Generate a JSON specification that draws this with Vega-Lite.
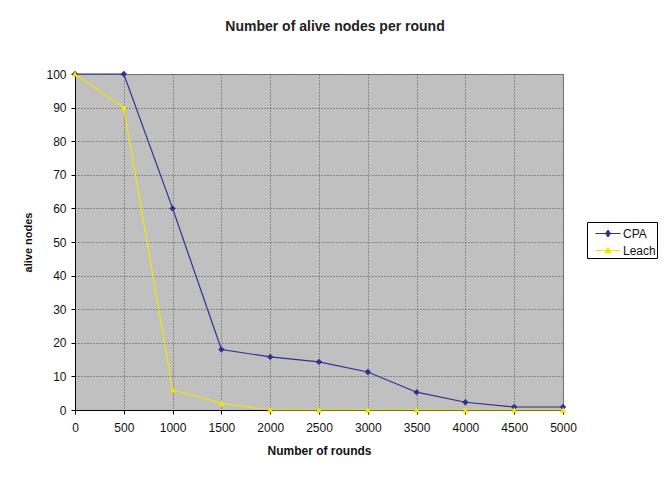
{
  "$schema": "https://vega.github.io/schema/vega-lite/v6.json",
  "width": 488,
  "height": 336,
  "autosize": {"type": "none"},
  "padding": {"left": 75, "top": 74, "right": 102, "bottom": 67},
  "background": "white",
  "title": {
    "text": "Number of alive nodes per round",
    "font": "Liberation Sans",
    "fontSize": 14,
    "fontWeight": "bold",
    "color": "#222222",
    "anchor": "middle",
    "dx": 16,
    "offset": 34
  },
  "data": {
    "values": [
      {"round": 0, "nodes": 100, "series": "CPA"},
      {"round": 500, "nodes": 100, "series": "CPA"},
      {"round": 1000, "nodes": 60, "series": "CPA"},
      {"round": 1500, "nodes": 18, "series": "CPA"},
      {"round": 2000, "nodes": 15.8, "series": "CPA"},
      {"round": 2500, "nodes": 14.3, "series": "CPA"},
      {"round": 3000, "nodes": 11.3, "series": "CPA"},
      {"round": 3500, "nodes": 5.3, "series": "CPA"},
      {"round": 4000, "nodes": 2.3, "series": "CPA"},
      {"round": 4500, "nodes": 0.9, "series": "CPA"},
      {"round": 5000, "nodes": 0.9, "series": "CPA"},
      {"round": 0, "nodes": 100, "series": "Leach"},
      {"round": 500, "nodes": 90, "series": "Leach"},
      {"round": 1000, "nodes": 6, "series": "Leach"},
      {"round": 1500, "nodes": 2, "series": "Leach"},
      {"round": 2000, "nodes": 0, "series": "Leach"},
      {"round": 2500, "nodes": 0, "series": "Leach"},
      {"round": 3000, "nodes": 0, "series": "Leach"},
      {"round": 3500, "nodes": 0, "series": "Leach"},
      {"round": 4000, "nodes": 0, "series": "Leach"},
      {"round": 4500, "nodes": 0, "series": "Leach"},
      {"round": 5000, "nodes": 0, "series": "Leach"}
    ]
  },
  "encoding": {
    "x": {
      "field": "round",
      "type": "quantitative",
      "scale": {"domain": [0, 5000], "nice": false},
      "axis": {
        "title": "Number  of  rounds",
        "values": [0, 500, 1000, 1500, 2000, 2500, 3000, 3500, 4000, 4500, 5000],
        "format": "d",
        "labelFlush": false,
        "labelBound": false,
        "labelOverlap": false,
        "labelPadding": 8,
        "titlePadding": 12,
        "titleFontSize": 12,
        "tickSize": 4
      }
    },
    "y": {
      "field": "nodes",
      "type": "quantitative",
      "scale": {"domain": [0, 100], "nice": false},
      "axis": {
        "title": "alive nodes",
        "values": [0, 10, 20, 30, 40, 50, 60, 70, 80, 90, 100],
        "labelFlush": false,
        "labelBound": false,
        "labelPadding": 5,
        "titlePadding": 12,
        "tickSize": 4
      }
    },
    "color": {
      "field": "series",
      "type": "nominal",
      "scale": {"domain": ["CPA", "Leach"], "range": ["#2E3192", "#F2E600"]},
      "legend": {
        "title": null,
        "orient": "none",
        "legendX": 512,
        "legendY": 148,
        "strokeColor": "#000000",
        "fillColor": "white",
        "padding": 1,
        "rowPadding": 0,
        "symbolSize": 400,
        "symbolStrokeWidth": 1,
        "labelOffset": 14,
        "labelFont": "Liberation Sans",
        "labelFontSize": 12,
        "labelColor": "#111111",
        "encode": {
          "symbols": {
            "update": {
              "shape": {"signal": "datum.value === 'CPA' ? 'M-0.3,0L2.2,0M0.7,0L0.95,-0.35L1.2,0L0.95,0.35Z' : 'M-0.3,0L2.2,0M0.65,0.25L0.95,-0.3L1.25,0.25Z'"},
              "fillOpacity": {"value": 1}
            },
            "enter": {
              "padding": {"value": 28}
            }
          },
          "legend": {
            "update": {
              "width": {"value": 80}
            }
          }
        }
      }
    }
  },
  "layer": [
    {"mark": {"type": "line", "strokeWidth": 1.2}},
    {
      "transform": [{"filter": "datum.series === 'CPA'"}],
      "mark": {"type": "point", "filled": true, "size": 40, "opacity": 1, "shape": "diamond"}
    },
    {
      "transform": [{"filter": "datum.series === 'Leach'"}],
      "mark": {"type": "point", "filled": true, "size": 40, "opacity": 1, "shape": "triangle-up"}
    }
  ],
  "config": {
    "view": {"fill": "#C0C0C0", "stroke": "#808080", "strokeWidth": 1},
    "axis": {
      "labelFont": "Liberation Sans",
      "labelFontSize": 12,
      "labelColor": "#111111",
      "titleFont": "Liberation Sans",
      "titleFontSize": 11,
      "titleFontWeight": "bold",
      "titleColor": "#111111",
      "domainColor": "#000000",
      "tickColor": "#000000",
      "gridColor": "#555555",
      "gridDash": [1, 2],
      "gridWidth": 1,
      "gridOpacity": 1
    }
  }
}
